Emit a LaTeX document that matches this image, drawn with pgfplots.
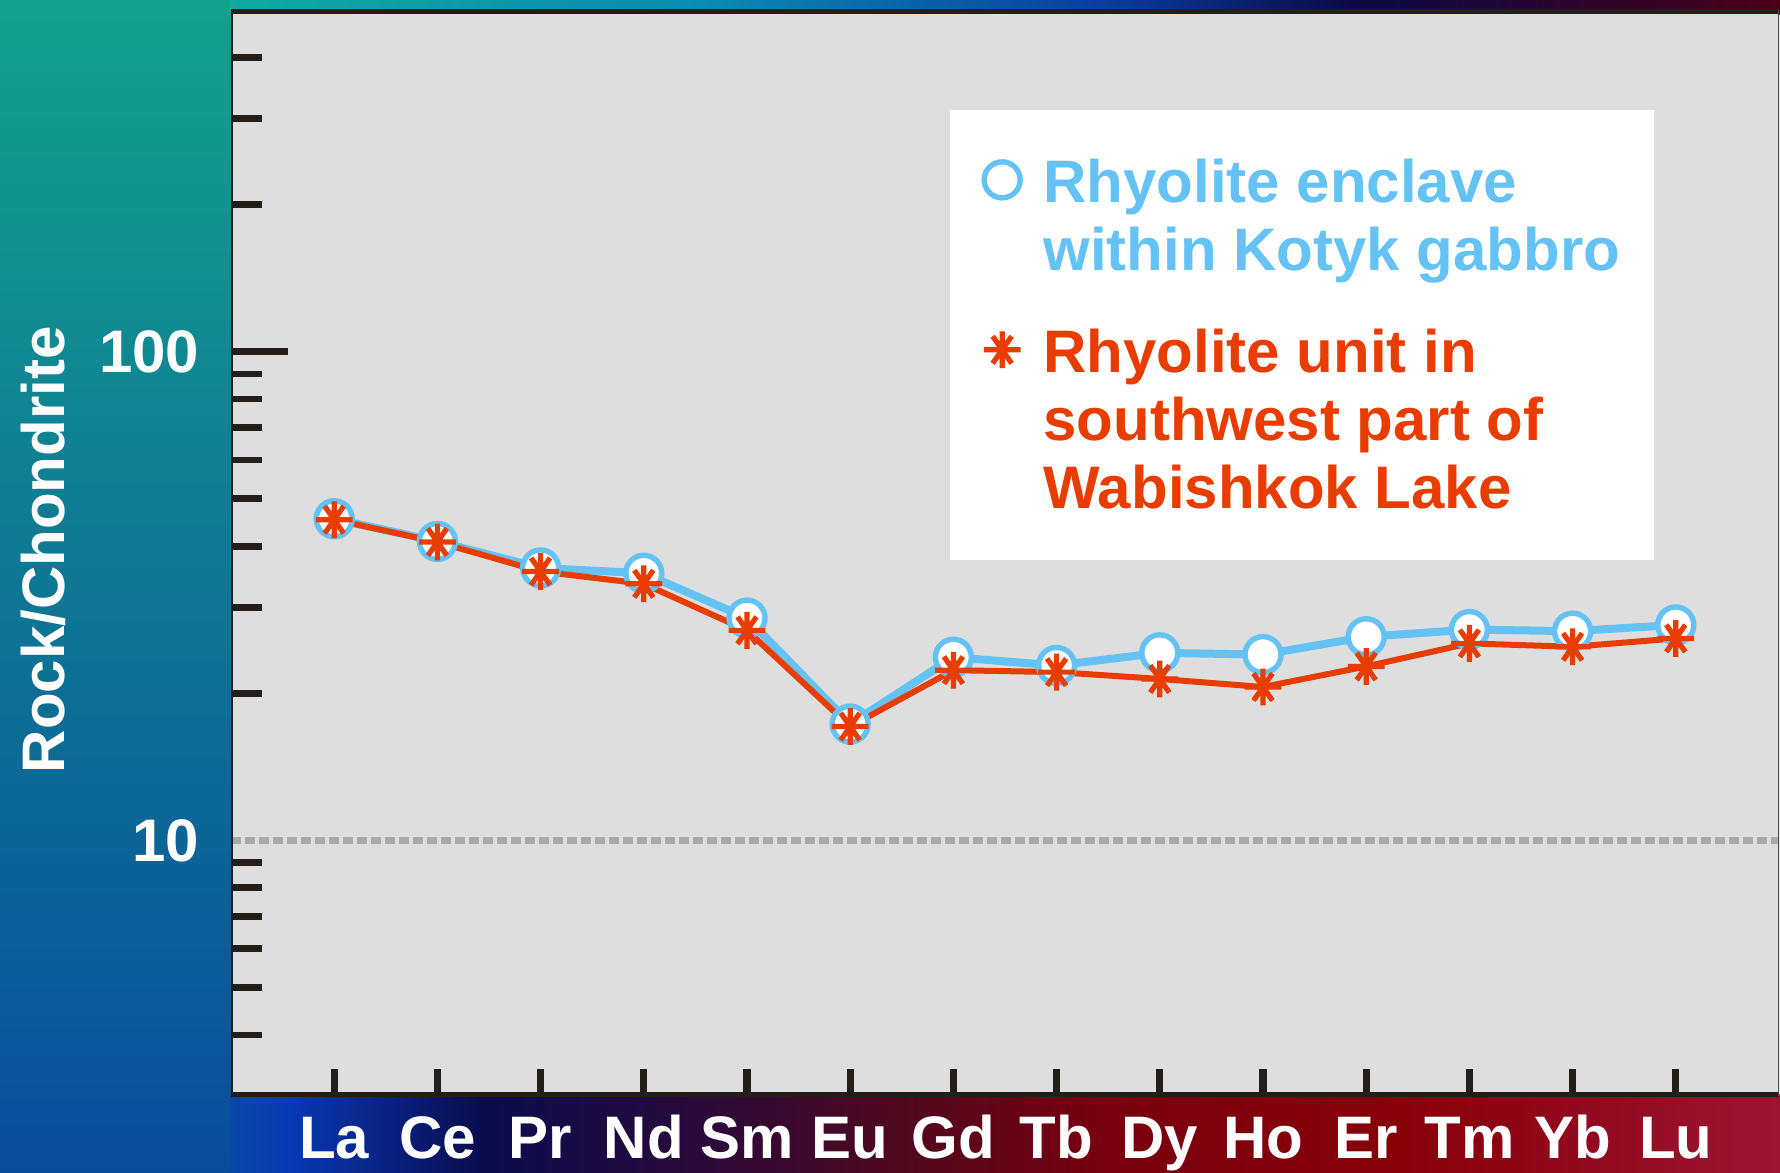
\documentclass[border=0pt]{standalone}
\usepackage{pgfplots}
\usepackage{pgfplotstable}
\pgfplotsset{compat=1.18}
\usepackage{fontspec}
\setmainfont{Liberation Sans}
\definecolor{cblue}{HTML}{64C2F5}
\definecolor{cred}{HTML}{E83C00}
\definecolor{plotbg}{HTML}{DEDEDE}
\definecolor{framec}{HTML}{221E1A}
\definecolor{gridc}{HTML}{A9A9A9}
% background colours
\definecolor{lA}{HTML}{12A28C}
\definecolor{lB}{HTML}{0D7282}
\definecolor{lC}{HTML}{0A4C9C}
\definecolor{bA}{HTML}{0A48A8}
\definecolor{bB}{HTML}{0838B4}
\definecolor{bC}{HTML}{0A0C4E}
\definecolor{bD}{HTML}{2A0A3A}
\definecolor{bE}{HTML}{50081E}
\definecolor{bF}{HTML}{780010}
\definecolor{bG}{HTML}{880008}
\definecolor{bH}{HTML}{9C1434}
\definecolor{tA}{HTML}{10AAA0}
\definecolor{tB}{HTML}{0A8CB0}
\definecolor{tC}{HTML}{0A3EA0}
\definecolor{tD}{HTML}{0A0A45}
\definecolor{tE}{HTML}{4A0018}
\newcommand\ff{\fontsize{15}{17}\selectfont\bfseries}
\newcommand\sA{\rule[-5pt]{0pt}{17pt}}
\newcommand\sGap{\rule[-13.5pt]{0pt}{25.5pt}}
\newcommand\sLast{\rule[-1.5pt]{0pt}{13.5pt}}
\pgfdeclareplotmark{ast8}{%
  \pgfpathmoveto{\pgfqpoint{-\pgfplotmarksize}{0pt}}%
  \pgfpathlineto{\pgfqpoint{\pgfplotmarksize}{0pt}}%
  \pgfpathmoveto{\pgfqpoint{0pt}{-\pgfplotmarksize}}%
  \pgfpathlineto{\pgfqpoint{0pt}{\pgfplotmarksize}}%
  \pgfpathmoveto{\pgfqpointpolar{55}{0.9\pgfplotmarksize}}%
  \pgfpathlineto{\pgfqpointpolar{235}{0.9\pgfplotmarksize}}%
  \pgfpathmoveto{\pgfqpointpolar{125}{0.9\pgfplotmarksize}}%
  \pgfpathlineto{\pgfqpointpolar{305}{0.9\pgfplotmarksize}}%
  \pgfusepathqstroke}
\pgfplotstableread{
x blue red
1  45.5 45.3
2  40.9 40.8
3  36.1 35.5
4  35.2 33.5
5  28.5 26.9
6  17.3 17.1
7  23.7 22.3
8  22.8 22.1
9  24.2 21.4
10 24.0 20.6
11 26.1 22.7
12 27.0 25.3
13 26.8 24.9
14 27.6 25.9
}\datatab
\begin{document}
\begin{tikzpicture}[font=\ff]
\useasboundingbox (0,0) rectangle (445pt,293pt);
% left strip
\shade[top color=lA, middle color=lB, bottom color=lC] (0,0) rectangle (58pt,293pt);
% bottom strip
\shade[left color=bA, right color=bB] (57.5pt,0) rectangle (72.8pt,19.5pt);
\shade[left color=bB, right color=bC] (72.5pt,0) rectangle (120.3pt,19.5pt);
\shade[left color=bC, right color=bD] (120pt,0) rectangle (175.3pt,19.5pt);
\shade[left color=bD, right color=bE] (175pt,0) rectangle (225.3pt,19.5pt);
\shade[left color=bE, right color=bF] (225pt,0) rectangle (275.3pt,19.5pt);
\shade[left color=bF, right color=bG] (275pt,0) rectangle (350.3pt,19.5pt);
\shade[left color=bG, right color=bH] (350pt,0) rectangle (445pt,19.5pt);
% top strip
\shade[left color=tA, right color=tB] (57.5pt,289.5pt) rectangle (175.3pt,293pt);
\shade[left color=tB, right color=tC] (175pt,289.5pt) rectangle (275.3pt,293pt);
\shade[left color=tC, right color=tD] (275pt,289.5pt) rectangle (337.8pt,293pt);
\shade[left color=tD, right color=tE] (337.5pt,289.5pt) rectangle (445pt,293pt);
\begin{axis}[
  at={(57.75pt,19pt)}, anchor=south west,
  scale only axis, width=387pt, height=271.5pt,
  xmin=0, xmax=15,
  ymode=log, ymin=3, ymax=500,
  axis background/.style={fill=plotbg},
  axis line style={draw=none},
  tick pos=left, tick align=inside,
  xtick={1,...,14},
  xticklabels={La,Ce,Pr,Nd,Sm,Eu,Gd,Tb,Dy,Ho,Er,Tm,Yb,Lu},
  ytick={100}, yticklabels={100},
  minor ytick={4,5,6,7,8,9,20,30,40,50,60,70,80,90,200,300,400},
  extra y ticks={10}, extra y tick labels={10},
  extra y tick style={grid=major,
     major grid style={draw=gridc, line width=1.75pt, dash pattern=on 2.5pt off 1pt},
     ytick style={/pgfplots/major tick length=0pt, draw=none}},
  xtick style={/pgfplots/major tick length=6.75pt, line width=1.8pt, draw=framec},
  ytick style={/pgfplots/major tick length=14.25pt, line width=1.9pt, draw=framec},
  minor tick length=7.75pt,
  minor y tick style={line width=1.7pt, draw=framec},
  /pgf/number format/assume math mode=true,
  tick label style={font=\ff, text=white},
  yticklabel style={inner sep=0pt, anchor=east, xshift=-7.75pt},
  xticklabel style={inner sep=0pt, anchor=north, yshift=-4.75pt, text height=10.75pt, text depth=3pt},
  ylabel={Rock/Chondrite},
  every axis y label/.style={at={(axis description cs:-0.1211,0.5028)}, rotate=90, anchor=center, font=\ff, text=white, inner sep=0pt},
  legend image code/.code={\draw[#1] plot coordinates {(0pt,5.75pt)};},
  legend style={at={(0.4638,0.9088)}, anchor=north west, fill=white, draw=none,
     inner xsep=8.5pt, inner ysep=11.25pt, row sep=0pt, font=\ff,
     nodes={inner sep=0pt, text depth=, text height=},
     cells={anchor=base west},
     /tikz/every odd column/.append style={column sep=5.75pt}},
]
\addplot[cblue, line width=2pt, line join=round, mark=*, mark size=4.5pt,
  mark options={fill=white, draw=cblue, line width=1.35pt, solid}, forget plot]
  table[x=x, y=blue]{\datatab};
\addplot[cred, line width=1.5pt, line join=round, mark=ast8, mark size=4.6pt,
  mark options={draw=cred, line width=1.3pt, solid}, forget plot]
  table[x=x, y=red]{\datatab};
\addlegendimage{only marks, mark=*, mark size=4.5pt, mark options={fill=white, draw=cblue, line width=1.35pt}}
\addlegendentry{\textcolor{cblue}{Rhyolite enclave}\sA}
\addlegendimage{empty legend}
\addlegendentry{\textcolor{cblue}{within Kotyk gabbro}\sGap}
\addlegendimage{only marks, mark=ast8, mark size=4.6pt, mark options={draw=cred, line width=1.3pt}}
\addlegendentry{\textcolor{cred}{Rhyolite unit in}\sA}
\addlegendimage{empty legend}
\addlegendentry{\textcolor{cred}{southwest part of}\sA}
\addlegendimage{empty legend}
\addlegendentry{\textcolor{cred}{Wabishkok Lake}\sLast}
\draw[framec, line width=2pt] (rel axis cs:0,1) -- (rel axis cs:1,1);
\draw[framec, line width=2pt] (rel axis cs:0,0) -- (rel axis cs:1,0);
\draw[framec, line width=0.75pt] (rel axis cs:0,0) -- (rel axis cs:0,1);
\draw[black!70, line width=0.3pt] (rel axis cs:1,0) -- (rel axis cs:1,1);
\end{axis}
\end{tikzpicture}
\end{document}
